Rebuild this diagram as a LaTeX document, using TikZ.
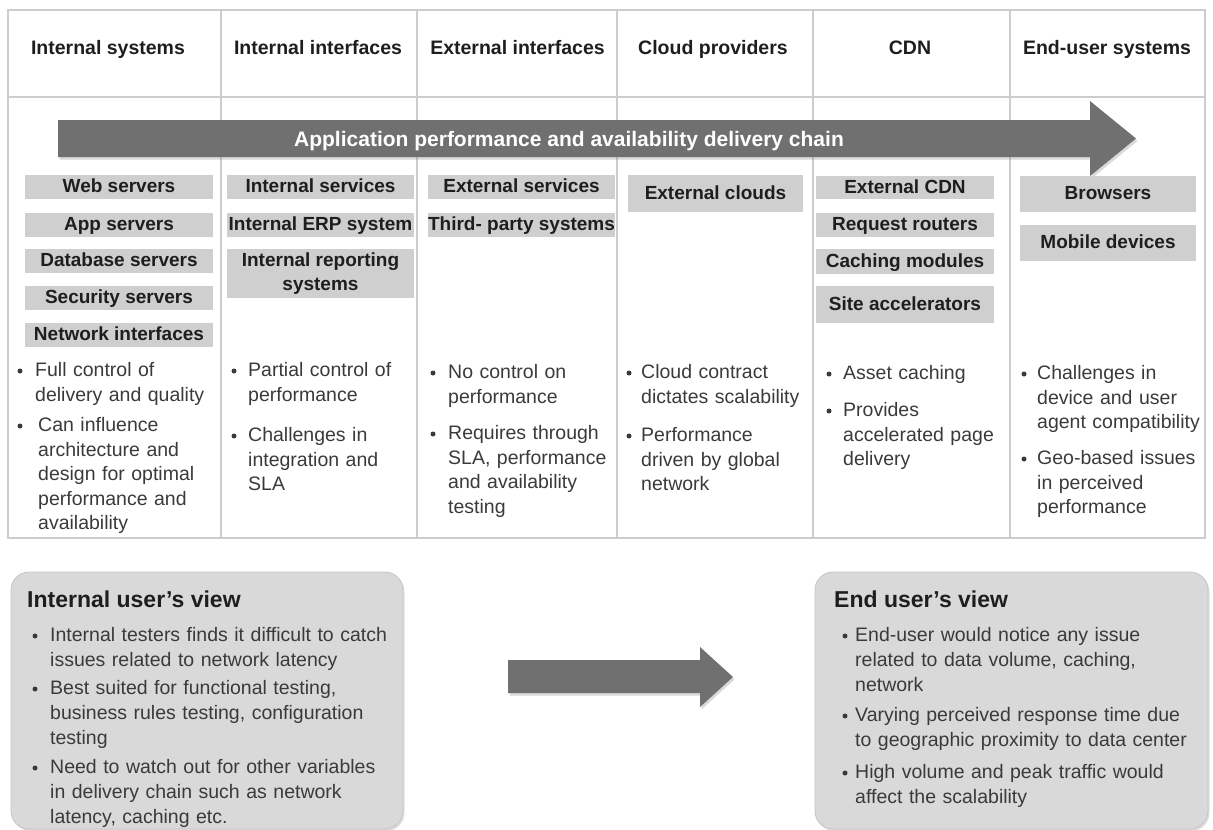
\documentclass[tikz,border=0pt]{standalone}
\usepackage{fontspec}
\setmainfont{Liberation Sans}
\usetikzlibrary{shadows}

\definecolor{gridline}{HTML}{CDCDCD}
\definecolor{chipfill}{HTML}{CFCFCF}
\definecolor{arrowfill}{HTML}{707070}
\definecolor{panelfill}{HTML}{D9D9D9}
\definecolor{paneledge}{HTML}{C4C4C4}
\definecolor{ink}{HTML}{1E1E1E}
\definecolor{bodyink}{HTML}{3A3A3A}

\tikzset{
  colhead/.style={font=\fontsize{19.5}{23}\selectfont\bfseries, text=ink, inner sep=0, anchor=base},
  chip/.style={fill=chipfill, font=\fontsize{19}{22}\selectfont\bfseries, text=ink,
    inner sep=0, align=center, text height=14pt, text depth=3pt},
  chiptwo/.style={fill=chipfill, font=\fontsize{19}{24}\selectfont\bfseries, text=ink,
    inner sep=0, align=center},
  btext/.style={font=\fontsize{19.5}{24.5}\selectfont, text=bodyink, inner sep=0,
    text width=420pt, align=left, anchor=base west},
  pbtext/.style={btext, font=\fontsize{19.5}{25}\selectfont},
  bdot/.style={circle, fill=bodyink, inner sep=0, minimum size=5pt},
  paneltitle/.style={font=\fontsize{23}{27}\selectfont\bfseries, text=ink, inner sep=0, anchor=base west},
  panel/.style={fill=panelfill, draw=paneledge, line width=0.8pt, rounded corners=18pt,
    inner sep=0, drop shadow={opacity=0.25, shadow xshift=1.5pt, shadow yshift=-2pt}},
  blockarrow/.style={fill=arrowfill, drop shadow={opacity=0.3, shadow xshift=1.5pt, shadow yshift=-2.5pt}},
}

% grey label box: name, x1, y1, x2, y2, text
\newcommand\chipbox[7][chip]{%
  \node[#1, minimum width={#5-#3}, minimum height={#6-#4}] (#2) at ({(#3+#5)/2},{(#4+#6)/2}) {#7};}
% bullet item: name, dot x, text x, first baseline, text
\newcommand\bitem[6][btext]{%
  \node[#1] (#2) at (#4,#5) {#6};
  \node[bdot] (#2-dot) at (#3,#5-5.5) {};}

\begin{document}
\begin{tikzpicture}[x=1pt, y=-1pt]
\useasboundingbox (0,0) rectangle (1213,830);

% ---- table grid
\draw[gridline, line width=1.2pt] (8,10) rectangle (1205,538);
\draw[gridline, line width=1.2pt] (8,97) -- (1205,97);
\foreach \gx in {221,417,617,813,1010}
  \draw[gridline, line width=1.2pt] (\gx,10) -- (\gx,538);

% ---- column headings
\node[colhead] (h1) at (108,54)   {Internal systems};
\node[colhead] (h2) at (318,54)   {Internal interfaces};
\node[colhead] (h3) at (517.5,54) {External interfaces};
\node[colhead] (h4) at (713,54)   {Cloud providers};
\node[colhead] (h5) at (910,54)   {CDN};
\node[colhead] (h6) at (1107,54)  {End-user systems};

% ---- delivery chain arrow
\path[blockarrow] (58,120) -- (1090,120) -- (1090,101) -- (1136,138.5)
  -- (1090,176) -- (1090,157) -- (58,157) -- cycle;
\node[font=\fontsize{21}{24}\selectfont\bfseries, text=white, inner sep=0, anchor=base] (chain)
  at (569,146) {Application performance and availability delivery chain};

% ---- component boxes
\chipbox{web}{25}{175}{213}{199}{Web servers}
\chipbox{app}{25}{213}{213}{237}{App servers}
\chipbox{db}{25}{249}{213}{273}{Database servers}
\chipbox{sec}{25}{286}{213}{310}{Security servers}
\chipbox{net}{25}{323}{213}{347}{Network interfaces}

\chipbox{isvc}{227}{175}{414}{199}{Internal services}
\chipbox{erp}{227}{213}{414}{237}{Internal ERP system}
\chipbox[chiptwo]{irep}{227}{249}{414}{298}{Internal reporting\\systems}

\chipbox{esvc}{428}{175}{615}{199}{External services}
\chipbox{third}{428}{213}{615}{237}{Third- party systems}

\chipbox{clouds}{628}{175}{803}{212}{External clouds}

\chipbox{ecdn}{816}{176}{994}{199}{External CDN}
\chipbox{rr}{816}{213}{994}{237}{Request routers}
\chipbox{cache}{816}{249}{994}{274}{Caching modules}
\chipbox{accel}{816}{286}{994}{323}{Site accelerators}

\chipbox{brow}{1020}{176}{1196}{212}{Browsers}
\chipbox{mob}{1020}{225}{1196}{261}{Mobile devices}

% ---- column notes
\bitem{n11}{20}{35}{376.5}{Full control of\\delivery and quality}
\bitem{n12}{20}{38}{431.5}{Can influence\\architecture and\\design for optimal\\performance and\\availability}

\bitem{n21}{234}{248}{376.5}{Partial control of\\performance}
\bitem{n22}{234}{248}{441.5}{Challenges in\\integration and\\SLA}

\bitem{n31}{433}{448}{378.5}{No control on\\performance}
\bitem{n32}{433}{448}{439.5}{Requires through\\SLA, performance\\and availability\\testing}

\bitem{n41}{629}{641}{378.5}{Cloud contract\\dictates scalability}
\bitem{n42}{629}{641}{441.5}{Performance\\driven by global\\network}

\bitem{n51}{829}{843}{379.5}{Asset caching}
\bitem{n52}{829}{843}{416.5}{Provides\\accelerated page\\delivery}

\bitem{n61}{1024}{1037}{379.5}{Challenges in\\device and user\\agent compatibility}
\bitem{n62}{1024}{1037}{464.5}{Geo-based issues\\in perceived\\performance}

% ---- user view panels
\node[panel, minimum width=392pt, minimum height=257pt] (intview) at (207,700.5) {};
\node[panel, minimum width=393pt, minimum height=257pt] (endview) at (1011.5,700.5) {};

\node[paneltitle] (inttitle) at (27,607) {Internal user's view};
\bitem[pbtext]{p11}{35}{50}{641.5}{Internal testers finds it difficult to catch\\issues related to network latency}
\bitem[pbtext]{p12}{35}{50}{694.5}{Best suited for functional testing,\\business rules testing, configuration\\testing}
\bitem[pbtext]{p13}{35}{50}{773.5}{Need to watch out for other variables\\in delivery chain such as network\\latency, caching etc.}

\node[paneltitle] (endtitle) at (834,607) {End user's view};
\bitem[pbtext]{p21}{845}{855}{641.5}{End-user would notice any issue\\related to data volume, caching,\\network}
\bitem[pbtext]{p22}{845}{855}{721.5}{Varying perceived response time due\\to geographic proximity to data center}
\bitem[pbtext]{p23}{845}{855}{778.5}{High volume and peak traffic would\\affect the scalability}

% ---- arrow between the panels
\path[blockarrow] (508,660) -- (700,660) -- (700,647) -- (733,677)
  -- (700,707) -- (700,693) -- (508,693) -- cycle;
\end{tikzpicture}
\end{document}
